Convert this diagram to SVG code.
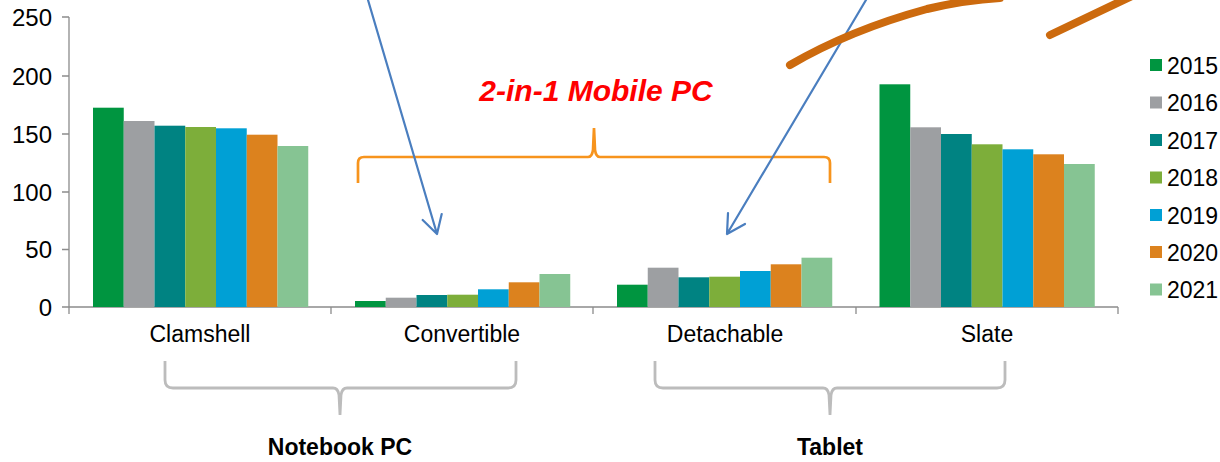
<svg xmlns="http://www.w3.org/2000/svg" width="1220" height="462" viewBox="0 0 1220 462">
<style>
text{font-family:"Liberation Sans",Arial,sans-serif;fill:#000}
.ax{stroke:#8c8c8c;stroke-width:1.3;fill:none}
.ytl{font-size:24px;text-anchor:end}
.cat{font-size:23px;text-anchor:middle}
.grp{font-size:23px;font-weight:bold;text-anchor:middle}
.leg{font-size:23px}
.c15{fill:#009540}.c16{fill:#9d9fa2}.c17{fill:#008382}.c18{fill:#7dae3a}.c19{fill:#00a0d5}.c20{fill:#dc821e}.c21{fill:#86c493}
.blue{stroke:#4a7ebf;stroke-width:2.2;fill:none;stroke-linecap:round;stroke-linejoin:round}
.brown{stroke:#cc6a0e;stroke-width:8;fill:none;stroke-linecap:round}
</style>
<rect width="1220" height="462" fill="#fff"/>
<g id="axes">
<path class="ax" d="M69 17V307M62 17H69M62 76H69M62 134H69M62 192H69M62 249.5H69M62 307H1118M69 307V314M331 307V314M593 307V314M856 307V314M1118 307V314"/>
<text class="ytl" x="52" y="26">250</text>
<text class="ytl" x="52" y="85">200</text>
<text class="ytl" x="52" y="143">150</text>
<text class="ytl" x="52" y="201">100</text>
<text class="ytl" x="52" y="258">50</text>
<text class="ytl" x="52" y="316">0</text>
</g>
<g id="clamshell">
<rect class="c15" x="93" y="107.7" width="30.75" height="199.3"/>
<rect class="c16" x="123.75" y="121" width="30.75" height="186"/>
<rect class="c17" x="154.5" y="125.7" width="30.75" height="181.3"/>
<rect class="c18" x="185.25" y="127" width="30.75" height="180"/>
<rect class="c19" x="216" y="128.3" width="30.75" height="178.7"/>
<rect class="c20" x="246.75" y="134.7" width="30.75" height="172.3"/>
<rect class="c21" x="277.5" y="146" width="30.75" height="161"/>
<text class="cat" x="200" y="342">Clamshell</text>
</g>
<g id="convertible">
<rect class="c15" x="355" y="301" width="30.75" height="6"/>
<rect class="c16" x="385.75" y="297.7" width="30.75" height="9.3"/>
<rect class="c17" x="416.5" y="295" width="30.75" height="12"/>
<rect class="c18" x="447.25" y="294.7" width="30.75" height="12.3"/>
<rect class="c19" x="478" y="289.3" width="30.75" height="17.7"/>
<rect class="c20" x="508.75" y="282.3" width="30.75" height="24.7"/>
<rect class="c21" x="539.5" y="274" width="30.75" height="33"/>
<text class="cat" x="462" y="342">Convertible</text>
</g>
<g id="detachable">
<rect class="c15" x="617" y="284.7" width="30.75" height="22.3"/>
<rect class="c16" x="647.75" y="267.7" width="30.75" height="39.3"/>
<rect class="c17" x="678.5" y="277.3" width="30.75" height="29.7"/>
<rect class="c18" x="709.25" y="276.7" width="30.75" height="30.3"/>
<rect class="c19" x="740" y="271" width="30.75" height="36"/>
<rect class="c20" x="770.75" y="264.3" width="30.75" height="42.7"/>
<rect class="c21" x="801.5" y="257.7" width="30.75" height="49.3"/>
<text class="cat" x="725" y="342">Detachable</text>
</g>
<g id="slate">
<rect class="c15" x="879.5" y="84.3" width="30.75" height="222.7"/>
<rect class="c16" x="910.25" y="127.3" width="30.75" height="179.7"/>
<rect class="c17" x="941" y="134" width="30.75" height="173"/>
<rect class="c18" x="971.75" y="144.3" width="30.75" height="162.7"/>
<rect class="c19" x="1002.5" y="149.3" width="30.75" height="157.7"/>
<rect class="c20" x="1033.25" y="154.3" width="30.75" height="152.7"/>
<rect class="c21" x="1064" y="164" width="30.75" height="143"/>
<text class="cat" x="987" y="342">Slate</text>
</g>
<g id="legend">
<rect class="c15" x="1150" y="59" width="12" height="12"/><text class="leg" x="1167" y="73.5">2015</text>
<rect class="c16" x="1150" y="96.5" width="12" height="12"/><text class="leg" x="1167" y="111">2016</text>
<rect class="c17" x="1150" y="134" width="12" height="12"/><text class="leg" x="1167" y="148.5">2017</text>
<rect class="c18" x="1150" y="171.5" width="12" height="12"/><text class="leg" x="1167" y="186">2018</text>
<rect class="c19" x="1150" y="209" width="12" height="12"/><text class="leg" x="1167" y="223.5">2019</text>
<rect class="c20" x="1150" y="246" width="12" height="12"/><text class="leg" x="1167" y="260.5">2020</text>
<rect class="c21" x="1150" y="283.5" width="12" height="12"/><text class="leg" x="1167" y="298">2021</text>
</g>
<g id="mobile-pc-brace">
<path d="M358 183V163Q358 157 364 157H588Q592 157 593 150L594 128L595 150Q596 157 600 157H824Q830 157 830 163V183" fill="none" stroke="#f7941d" stroke-width="2.7"/>
<text x="596" y="101" text-anchor="middle" font-size="30" font-weight="bold" font-style="italic" style="fill:#ff0000">2-in-1 Mobile PC</text>
</g>
<g id="notebook-brace">
<path d="M165 361V380Q165 388 173 388H333Q338 388 339 395L340 415L341 395Q342 388 347 388H508Q516 388 516 380V361" fill="none" stroke="#bcbcbc" stroke-width="2.8"/>
<text class="grp" x="340" y="455">Notebook PC</text>
</g>
<g id="tablet-brace">
<path d="M655 361V380Q655 388 663 388H823Q828 388 829 395L830 415L831 395Q832 388 837 388H997Q1005 388 1005 380V361" fill="none" stroke="#bcbcbc" stroke-width="2.8"/>
<text class="grp" x="830" y="455">Tablet</text>
</g>
<g id="connectors">
<path class="blue" d="M368 0L437 234M422.7 220L437 234L441.7 214"/>
<path class="blue" d="M866 0L727 234M728 213L727 234L745 224"/>
</g>
<g id="strokes">
<path class="brown" d="M790 65Q850 30 927 9Q965 0 1000 -2"/>
<path class="brown" d="M1050 35L1132 -4"/>
</g>
</svg>
